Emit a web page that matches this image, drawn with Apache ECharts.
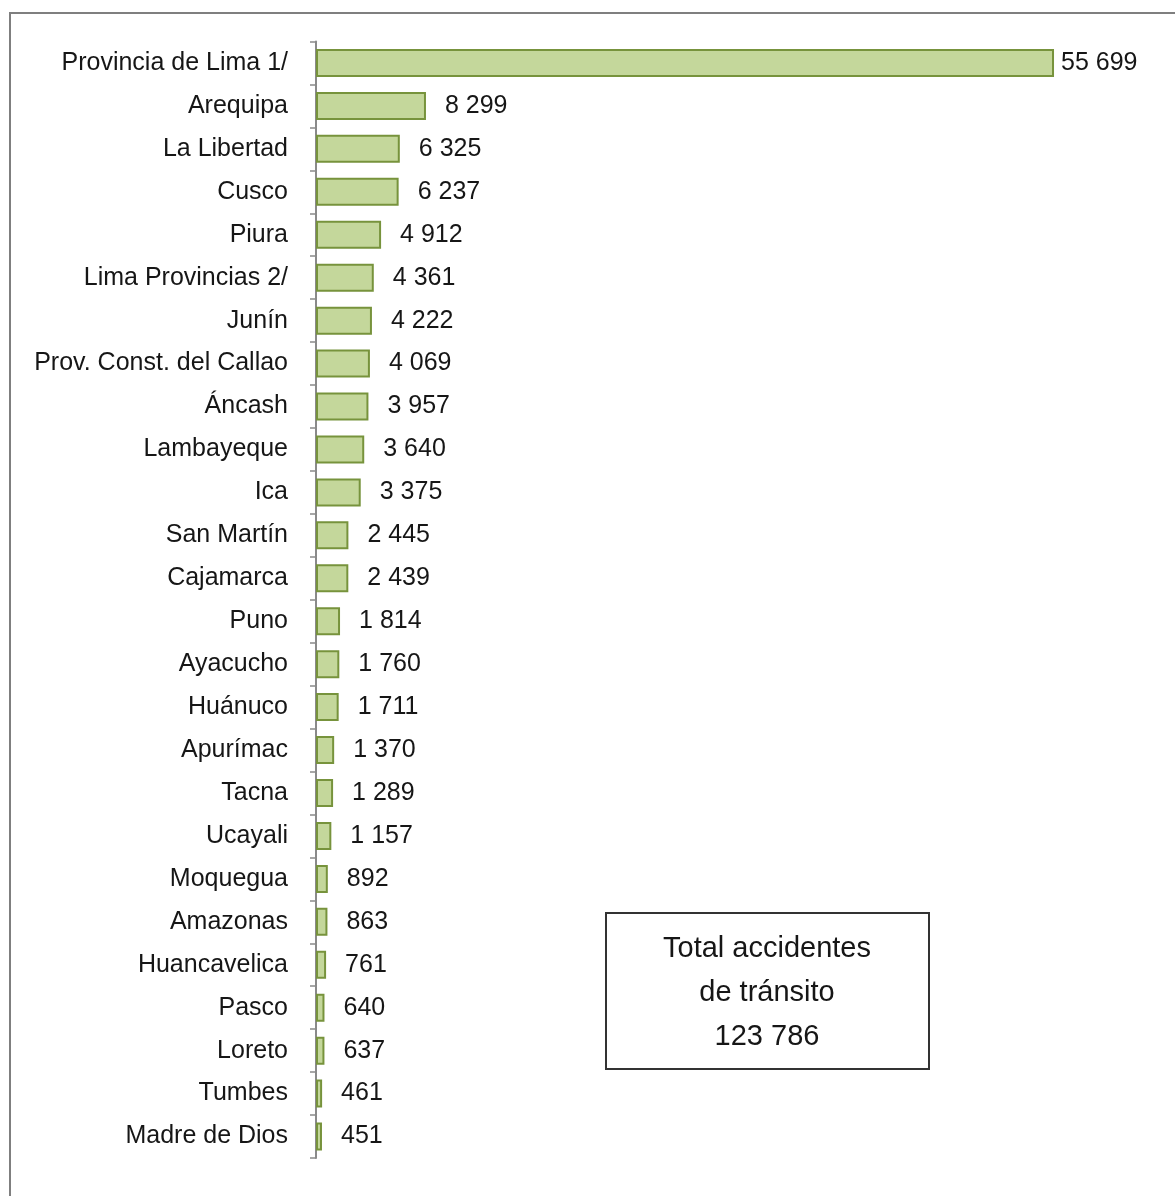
<!DOCTYPE html>
<html>
<head>
<meta charset="utf-8">
<script src="https://cdn.jsdelivr.net/npm/echarts@6/dist/echarts.min.js"></script>
<style>
html,body{margin:0;padding:0;background:#fff;}
#chart{width:1175px;height:1196px;}
</style>
</head>
<body>
<div id="chart"></div>
<script>
var categories = ["Provincia de Lima 1/","Arequipa","La Libertad","Cusco","Piura","Lima Provincias 2/","Junín","Prov. Const. del Callao","Áncash","Lambayeque","Ica","San Martín","Cajamarca","Puno","Ayacucho","Huánuco","Apurímac","Tacna","Ucayali","Moquegua","Amazonas","Huancavelica","Pasco","Loreto","Tumbes","Madre de Dios"];
var values = [55699,8299,6325,6237,4912,4361,4222,4069,3957,3640,3375,2445,2439,1814,1760,1711,1370,1289,1157,892,863,761,640,637,461,451];
var totalLines = ["Total accidentes","de tránsito","123 786"];

function fmt(v){return String(v).replace(/\B(?=(\d{3})+(?!\d))/g,' ');}

var chart = echarts.init(document.getElementById('chart'));
var fontFam = 'Liberation Sans, Arial, sans-serif';
chart.setOption({
  animation:false,
  backgroundColor:'#fff',
  grid:{left:316,right:64,top:41.5,bottom:38,containLabel:false},
  xAxis:{type:'value',min:0,max:60000,show:false},
  yAxis:{type:'category',data:categories,inverse:true,
    axisLine:{show:true,lineStyle:{color:'#8a8a8a',width:2}},
    axisTick:{show:true,length:6,inside:false,lineStyle:{color:'#8a8a8a',width:1.5}},
    axisLabel:{color:'#161616',fontSize:25,fontFamily:fontFam,margin:28}
  },
  series:[{type:'bar',barWidth:28,
    data:values.map(function(v,i){
      return i===0?{value:v,label:{distance:7}}:v;
    }),
    itemStyle:{color:'#c4d79b',borderColor:'#77933c',borderWidth:2},
    label:{show:true,position:'right',distance:19,color:'#161616',fontSize:25,fontFamily:fontFam,
      formatter:function(p){return fmt(p.value);}}
  }],
  graphic:[
    {type:'rect',shape:{x:10,y:13,width:1300,height:1300},style:{fill:'none',stroke:'#7f7f7f',lineWidth:2},silent:true},
    {type:'rect',shape:{x:606,y:913,width:323,height:156},style:{fill:'#fff',stroke:'#333',lineWidth:2},z:10},
    {type:'text',x:767,y:993,z:11,style:{text:totalLines.join('\n'),fill:'#161616',font:'29px Liberation Sans, Arial, sans-serif',textAlign:'center',textVerticalAlign:'middle',lineHeight:44}}
  ]
});
</script>
</body>
</html>
